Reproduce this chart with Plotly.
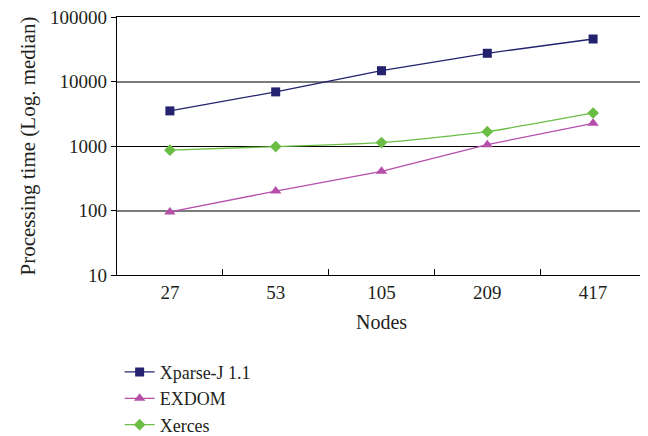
import plotly.graph_objects as go

nodes = ["27", "53", "105", "209", "417"]
xparse = [3500, 6900, 14700, 27400, 45600]
exdom = [95, 200, 405, 1050, 2250]
xerces = [860, 980, 1130, 1670, 3250]
y_ticks = [10, 100, 1000, 10000, 100000]
grey_grid = [100, 10000]
black_grid = [1000]

FONT = "Liberation Serif"
TXT = "#231F20"
YR = [1, 5]

fig = go.Figure()
# helper (invisible) traces so that the grid-only axes are drawn
fig.add_trace(go.Scatter(x=[nodes[0]], y=[y_ticks[1]], yaxis="y", mode="markers",
                         marker=dict(opacity=0), showlegend=False, hoverinfo="skip"))
fig.add_trace(go.Scatter(x=[nodes[0]], y=[y_ticks[1]], yaxis="y2", mode="markers",
                         marker=dict(opacity=0), showlegend=False, hoverinfo="skip"))

fig.add_trace(go.Scatter(x=nodes, y=xparse, name="Xparse-J 1.1", mode="lines+markers", yaxis="y3",
                         line=dict(color="#23226F", width=1.3),
                         marker=dict(symbol="square", size=9, color="#23226F")))
fig.add_trace(go.Scatter(x=nodes, y=exdom, name="EXDOM", mode="lines+markers", yaxis="y3",
                         line=dict(color="#B64FAA", width=1.3),
                         marker=dict(symbol="triangle-up", size=10, color="#B64FAA")))
fig.add_trace(go.Scatter(x=nodes, y=xerces, name="Xerces", mode="lines+markers", yaxis="y3",
                         line=dict(color="#6BBE45", width=1.3, shape="spline", smoothing=0.6),
                         marker=dict(symbol="diamond", size=9, color="#6BBE45")))

fig.update_layout(
    width=640, height=428,
    margin=dict(l=109, r=2, t=9, b=161, autoexpand=False),
    paper_bgcolor="white", plot_bgcolor="white",
    font=dict(family=FONT, size=19, color=TXT),
    showlegend=True,
    legend=dict(x=0.005, y=-0.305, xanchor="left", yanchor="top",
                font=dict(family=FONT, size=18, color=TXT),
                tracegroupgap=0, itemwidth=30, bgcolor="rgba(0,0,0,0)"),
    xaxis=dict(
        type="category", range=[-0.5, 4.5],
        showline=True, linecolor="black", linewidth=1.2, mirror=True,
        ticks="inside", tickson="boundaries", ticklen=6, tickcolor="black",
        showgrid=False, zeroline=False,
        tickfont=dict(family=FONT, size=19, color=TXT),
        title=dict(text="Nodes", font=dict(family=FONT, size=20, color=TXT), standoff=13),
    ),
    yaxis=dict(
        type="log", range=YR,
        tickvals=grey_grid, showticklabels=False, ticks="",
        showgrid=True, gridcolor="#7A7A7A", gridwidth=1.6,
        showline=False, zeroline=False,
    ),
    yaxis2=dict(
        type="log", range=YR, overlaying="y", side="left",
        tickvals=black_grid, showticklabels=False, ticks="",
        showgrid=True, gridcolor="black", gridwidth=1,
        showline=False, zeroline=False,
    ),
    yaxis3=dict(
        type="log", range=YR, overlaying="y", side="left",
        tickvals=y_ticks, ticktext=[str(v) for v in y_ticks],
        ticklabeloverflow="allow",
        showline=True, linecolor="black", linewidth=1.2, mirror=True,
        ticks="outside", ticklen=5, tickcolor="black",
        showgrid=False, zeroline=False,
        tickfont=dict(family=FONT, size=19, color=TXT),
        title=dict(text="Processing time (Log. median)", font=dict(family=FONT, size=21, color=TXT), standoff=8),
    ),
)

fig.write_html("out.html")
